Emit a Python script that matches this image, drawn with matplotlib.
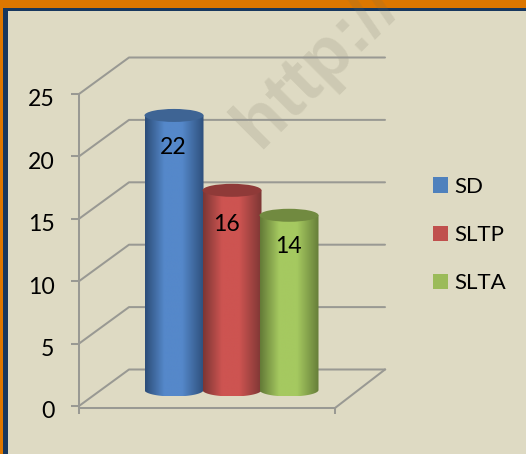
import numpy as np
import matplotlib
matplotlib.use("Agg")
import matplotlib.pyplot as plt
from matplotlib.patches import Rectangle, Ellipse, PathPatch
from matplotlib.path import Path
from matplotlib.colors import LinearSegmentedColormap
from matplotlib.transforms import ScaledTranslation

series = ["SD", "SLTP", "SLTA"]
values = [22, 16, 14]
yticks = [0, 5, 10, 15, 20, 25]

base_colors = ["#4f81bd", "#c0504d", "#9bbb59"]
edge_colors = ["#2c4d78", "#7c3634", "#637a37"]
mid_colors = ["#5588ca", "#cd5451", "#a5c960"]
cap_colors = ["#3e6494", "#8f3a38", "#718a40"]

W, H = 526, 454
plt.rcParams["font.family"] = ["Lato", "DejaVu Sans"]
fig = plt.figure(figsize=(W / 100, H / 100), dpi=100)
BG = "#dedac3"
fig.patch.set_facecolor(BG)

# backdrop in pixel coordinates
bg = fig.add_axes([0, 0, 1, 1], zorder=0)
bg.set_xlim(0, W)
bg.set_ylim(H, 0)
bg.axis("off")
bg.add_patch(Rectangle((0, 0), W, 8, color="#dd7700", lw=0))
bg.add_patch(Rectangle((0, 0), 3, H, color="#dd7700", lw=0))
bg.add_patch(Rectangle((3, 8), W, 3, color="#17375e", lw=0))
bg.add_patch(Rectangle((3, 8), 5, H, color="#17375e", lw=0))
bg.text(259, 149, "http://", rotation=45, rotation_mode="anchor", ha="left", va="baseline",
        fontsize=52, fontweight="bold", family="Liberation Sans", color="#6e6a55", alpha=0.15)

# main plot: front plane 79..335 px, value 0 at y=406, 25 at y=94
L, R, T, B = 79, 335, 94, 406
ax = fig.add_axes([L / W, 1 - B / H, (R - L) / W, (B - T) / H], zorder=1)
ax.patch.set_visible(False)
ax.set_xlim(0, 1)
ax.set_ylim(0, 25)
xpx = 1 / (R - L)
ypx = 25 / (B - T)

GRID = "#999993"
LW = 1.45
dx, dy = 50 * xpx, 36.5 * ypx
for v in yticks:
    ax.plot([0, dx, 1 + dx], [v, v + dy, v + dy], color=GRID, lw=LW, clip_on=False,
            solid_capstyle="round", zorder=1)
ax.plot([1, 1 + dx], [-2 * ypx, dy], color=GRID, lw=LW, clip_on=False, zorder=1)

for s in ("top", "right"):
    ax.spines[s].set_visible(False)
ax.spines["left"].set_color(GRID)
ax.spines["bottom"].set_color(GRID)
ax.spines["left"].set_linewidth(LW)
ax.spines["bottom"].set_linewidth(LW)
ax.spines["bottom"].set_position(("outward", 1.5))
ax.set_yticks(yticks)
ax.set_xticks([0, 1])
ax.set_xticklabels([])
ax.tick_params(axis="y", length=5.8, width=LW, color=GRID, labelsize=16.6, pad=11.9, labelcolor="black")
ax.tick_params(axis="x", length=4.3, width=LW, color=GRID)
shift = ScaledTranslation(0, -4 / 100, fig.dpi_scale_trans)
for lab in ax.get_yticklabels():
    lab.set_transform(lab.get_transform() + shift)

# cylinders
centers = [149, 207, 264]
bar_w = 59 * xpx
base_y = 16 * ypx
b = 6.5 * ypx
off_x = 25 * xpx
label_dx = [-1, -6, -1]
label_off = [32, 34, 31]
t = np.linspace(0, np.pi, 60)
for i, (name, val) in enumerate(zip(series, values)):
    xc = (centers[i] - L) * xpx + off_x
    top = val + base_y
    xs = xc - bar_w / 2 * np.cos(t)
    ys = base_y - b * np.sin(t)
    verts = np.vstack([[[xc - bar_w / 2, top]], np.column_stack([xs, ys]),
                       [[xc + bar_w / 2, top]], [[xc - bar_w / 2, top]]])
    clip = PathPatch(Path(verts), transform=ax.transData, fc="none", ec="none")
    ax.add_patch(clip)
    cmap = LinearSegmentedColormap.from_list(
        name, [(0, edge_colors[i]), (0.32, mid_colors[i]), (0.62, mid_colors[i]), (1, edge_colors[i])])
    grad = np.linspace(0, 1, 128)[None, :]
    im = ax.imshow(grad, cmap=cmap, aspect="auto", extent=[xc - bar_w / 2, xc + bar_w / 2, base_y - b, top],
                   zorder=2 + i, interpolation="bilinear")
    im.set_clip_path(clip)
    ax.add_patch(Ellipse((xc, top), bar_w, 2 * b, fc=cap_colors[i], ec="none", zorder=2 + i))
    ax.text(xc + label_dx[i] * xpx, top - label_off[i] * ypx, str(val), ha="center", va="center",
            fontsize=16.6, color="black", zorder=6)
ax.set_xlim(0, 1)
ax.set_ylim(0, 25)

handles = [Rectangle((0, 0), 1, 1, fc=c, ec="none") for c in base_colors]
fs = 16
em = fs * 100 / 72
leg = ax.legend(handles, series, loc="center left", bbox_to_anchor=(433 / W, 1 - 235 / H),
                bbox_transform=fig.transFigure, frameon=False, fontsize=fs,
                handlelength=15 / em, handleheight=15 / em, handletextpad=6 / em,
                labelspacing=1.27, borderpad=0, borderaxespad=0)

fig.savefig("out.png", dpi=100, facecolor=BG)
